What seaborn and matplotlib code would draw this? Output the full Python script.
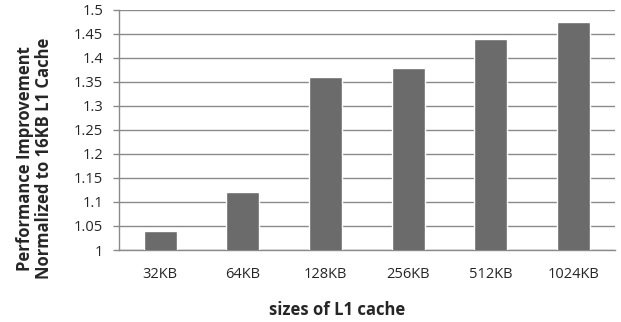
import matplotlib
matplotlib.use("Agg")
import matplotlib.pyplot as plt
import seaborn as sns
import pandas as pd
import numpy as np

# values
sizes = ["32KB", "64KB", "128KB", "256KB", "512KB", "1024KB"]
improvement = [1.04, 1.12, 1.36, 1.38, 1.44, 1.475]
y_ticks = [1, 1.05, 1.1, 1.15, 1.2, 1.25, 1.3, 1.35, 1.4, 1.45, 1.5]
y_tick_labels = ["1", "1.05", "1.1", "1.15", "1.2", "1.25", "1.3", "1.35", "1.4", "1.45", "1.5"]

df = pd.DataFrame({"size": sizes, "improvement": improvement})

sns.set_style("white")
plt.rcParams['font.family'] = ['Open Sans', 'DejaVu Sans']

fig = plt.figure(figsize=(6.21, 3.22), dpi=100)
ax = fig.add_axes([0.1916, 0.2236, 0.7984, 0.7454])

sns.barplot(data=df, x="size", y="improvement", color="#6b6b6b", saturation=1,
            width=0.4, ax=ax, zorder=3)

ax.set_ylim(1, 1.5)
ax.set_yticks(y_ticks)
ax.set_yticklabels(y_tick_labels, fontsize=10.5)
ax.tick_params(axis="x", labelsize=10.5, length=0, pad=12.5)
ax.tick_params(axis="y", length=4.3, width=1, color="#8a8a8a", left=True, pad=7)
ax.yaxis.grid(True, color="#8a8a8a", linewidth=1, zorder=0)
ax.set_axisbelow(True)

for s in ["top", "right"]:
    ax.spines[s].set_visible(False)
for s in ["left", "bottom"]:
    ax.spines[s].set_color("#8a8a8a")
    ax.spines[s].set_linewidth(1)

ax.set_xlabel("sizes of L1 cache", fontsize=12, fontweight="bold")
ax.set_ylabel("Performance Improvement\nNormalized to 16KB L1 Cache", fontsize=12,
              fontweight="bold", linespacing=1.05)
ax.xaxis.set_label_coords(0.44, -0.25)
ax.yaxis.set_label_coords(-0.17, 0.383)
ax.yaxis.label.set_verticalalignment("center")
ax.xaxis.label.set_verticalalignment("center")

fig.savefig("out.png", dpi=100)
